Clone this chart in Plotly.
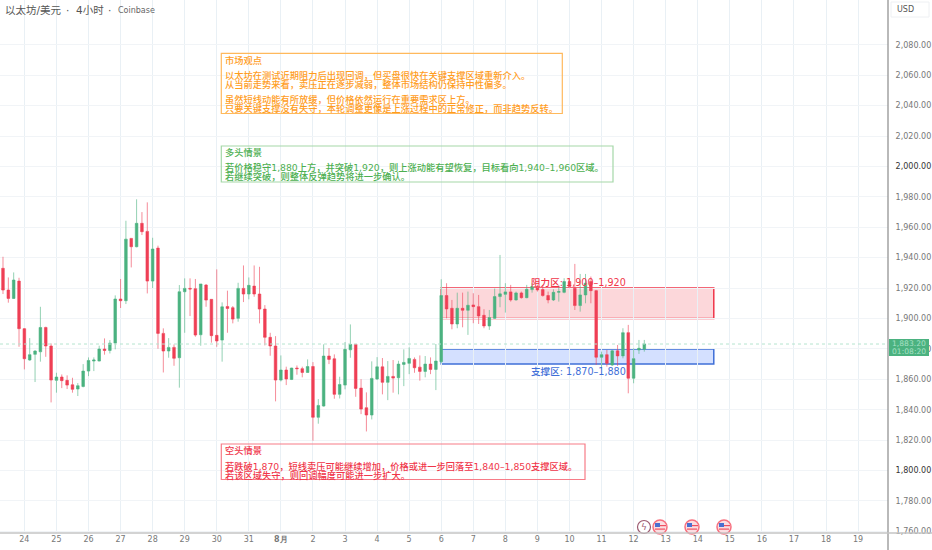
import plotly.graph_objects as go

W, H = 932, 550
AXIS_X, AXIS_Y = 888, 533
FONT_CJK = "DejaVu Sans, Noto Sans CJK SC"
FONT_TICK = "DejaVu Sans"
GREEN = "#4bb280"
RED = "#ef3f55"

# 4 hour candles, prices
opens = [1933, 1918.7, 1913.2, 1924.6, 1893.3, 1872.7, 1876.4, 1878.1, 1894.1, 1881.9,
         1859.3, 1861.5, 1859.3, 1856.4, 1853.6, 1855.3, 1865.4, 1872, 1872, 1879.9,
         1879, 1883.8, 1912.8, 1911.7, 1952.7, 1947.2, 1962.6, 1957.3, 1924.6, 1946.3,
         1890.2, 1878.6, 1881, 1874.2, 1917.6, 1919.8, 1919.6, 1889.3, 1922, 1912.6,
         1888.9, 1885.8, 1907.9, 1907.1, 1900.1, 1919.8, 1916.1, 1921.3, 1916.1, 1906.2,
         1887.6, 1881.9, 1859.5, 1866.1, 1859.9, 1867.4, 1867, 1864.5, 1868.4, 1835,
         1842.4, 1875.3, 1873.5, 1850.1, 1856.2, 1879.4, 1883, 1854.2, 1841.3, 1836.5,
         1860.2, 1868.2, 1858, 1861.9, 1861, 1869.8, 1870.5, 1873.1, 1868, 1865.2,
         1870, 1866.5, 1871.6, 1915.1, 1906.7, 1896.4, 1906.7, 1905.4, 1908.9, 1907.8,
         1902.1, 1895.1, 1900.1, 1914.4, 1915.9, 1917.5, 1912.2, 1916.8, 1913.7, 1919,
         1920.3, 1919, 1915.1, 1912.2, 1917.2, 1917.2, 1924.3, 1919.9, 1908.5, 1915.5,
         1924.3, 1918.3, 1874.5, 1876.2, 1869.4, 1878.7, 1875.4, 1890.7, 1860.7, 1879.3,
         1879.8]
highs = [1940.6, 1927, 1930.3, 1926.8, 1893.7, 1887.1, 1879.2, 1907.7, 1894.6, 1883.6,
         1864.3, 1863.2, 1862.6, 1861, 1857.5, 1870, 1874.4, 1874.4, 1882.1, 1886.9,
         1885.8, 1915.2, 1926, 1964.3, 1952.9, 1978.4, 1970, 1976.4, 1953.1, 1947.9,
         1893.5, 1887.1, 1882.9, 1922, 1926.4, 1926.4, 1926, 1922.7, 1922.7, 1912.6,
         1932.3, 1910.6, 1918.3, 1908.2, 1923.5, 1934.9, 1927, 1934.9, 1934, 1908.8,
         1890.6, 1888.4, 1875.7, 1868.3, 1867.6, 1869.1, 1868.3, 1873.1, 1871.3, 1847,
         1883, 1880.5, 1876.4, 1861.7, 1884.5, 1896.1, 1883.2, 1860.1, 1851.4, 1871.8,
         1874.6, 1874, 1872, 1872.7, 1872.2, 1879.7, 1881, 1874.4, 1875.7, 1875.3,
         1874.4, 1883.2, 1925.8, 1923.2, 1912.2, 1917, 1917, 1917.7, 1916.6, 1915.5,
         1906.1, 1905.6, 1919.7, 1941.8, 1923.2, 1922.1, 1917.7, 1917.7, 1922.1, 1923.2,
         1922.1, 1922.1, 1917.7, 1919.2, 1922.1, 1926.5, 1926.5, 1935.9, 1929.3, 1929.3,
         1927.6, 1918.8, 1878.2, 1879.3, 1879.3, 1882.6, 1893.6, 1895.8, 1880.4, 1885.9,
         1885.9]
lows = [1916.1, 1910.4, 1912.8, 1881.4, 1866.5, 1872.2, 1858.2, 1871.6, 1874.8, 1844.8,
        1851.2, 1854.2, 1853.6, 1851.2, 1849, 1854.7, 1862.1, 1865.4, 1871.8, 1876.2,
        1877, 1879.7, 1906.9, 1909.5, 1933.6, 1946.8, 1954.9, 1916.5, 1920, 1880.1,
        1864.5, 1874.2, 1868.9, 1854.5, 1890.6, 1901.6, 1888, 1882.1, 1907.7, 1884.1,
        1881.4, 1871.6, 1890.6, 1896.8, 1897.9, 1910.8, 1912.6, 1914.3, 1896.8, 1882.3,
        1875.5, 1845.5, 1858.6, 1856.2, 1859.5, 1863, 1861.3, 1864.3, 1819.6, 1830.8,
        1842, 1870, 1847.2, 1847.4, 1853.4, 1874.2, 1848.5, 1837.1, 1825.7, 1833.6,
        1859.5, 1850.1, 1846.3, 1851.2, 1850.1, 1855.5, 1863.4, 1864.3, 1859.1, 1861.3,
        1863.4, 1852.9, 1870.5, 1900.1, 1892.9, 1893.6, 1894.2, 1889.2, 1896.9, 1896.4,
        1893.6, 1892.5, 1899.7, 1907.4, 1903.9, 1911.1, 1911.8, 1913.1, 1913.3, 1917,
        1917.7, 1914.4, 1910, 1911.5, 1911.1, 1916.6, 1919.9, 1905.6, 1904.5, 1910,
        1910, 1869.4, 1867.2, 1868.3, 1868.8, 1868.8, 1873.8, 1850.8, 1857.4, 1876.7,
        1878.2]
closes = [1918.7, 1913.2, 1925.3, 1893.3, 1873.5, 1876.2, 1878.6, 1894.1, 1881.9, 1859.5,
          1861.5, 1859.1, 1856.2, 1853.4, 1855.8, 1865.4, 1872.4, 1872.7, 1879.9, 1879,
          1883.8, 1912.8, 1911.7, 1952.2, 1947.2, 1962.6, 1957.1, 1924.6, 1945.7, 1890.2,
          1878.6, 1881, 1873.8, 1917.6, 1919.8, 1919.4, 1889.1, 1922.7, 1912.1, 1888.7,
          1885.2, 1907.7, 1906.6, 1899.6, 1919.8, 1916.1, 1921.8, 1916.1, 1906.2, 1887.6,
          1881.9, 1859.5, 1866.1, 1860.2, 1867.4, 1867, 1864.5, 1868.4, 1835, 1842.8,
          1875.3, 1873.1, 1850.1, 1856.6, 1879.7, 1883, 1854, 1840.4, 1836.5, 1860.6,
          1868.2, 1858, 1861.9, 1860.8, 1870, 1871.1, 1873.7, 1867.6, 1865.2, 1870,
          1866.5, 1872, 1915.1, 1906.3, 1896.4, 1906.7, 1905.4, 1908.7, 1907.8, 1901.7,
          1895.1, 1900.6, 1914.4, 1916.2, 1917.5, 1912.2, 1916.8, 1913.7, 1919.2, 1921,
          1918.8, 1915.1, 1912.2, 1917.2, 1917.7, 1924.3, 1921, 1908.5, 1915.5, 1923.2,
          1918.3, 1874.5, 1876.2, 1870.5, 1878.7, 1875.4, 1890.7, 1860.7, 1873.6, 1880.4,
          1883.3]

x_labels = ["24", "25", "26", "27", "28", "29", "30", "31", "<b>8月</b>"] + [str(d) for d in range(2, 20)]
y_values = list(range(1760, 2100, 20))
dark_prices = [1800, 2000]

last_price = 1883.2
zone_res = (1900, 1920)
zone_sup = (1870, 1880)
zone_start, zone_end = 82, 133
label_res = "阻力区: 1,900–1,920"
label_sup = "支撑区: 1,870–1,880"

view_lines = ["市场观点", "以太坊在测试近期阻力后出现回调，但买盘很快在关键支撑区域重新介入。",
              "从当前走势来看，卖压正在逐步减弱，整体市场结构仍保持中性偏多。",
              "虽然短线动能有所放缓，但价格依然运行在重要需求区上方。",
              "只要关键支撑没有失守，本轮调整更像是上涨过程中的正常修正，而非趋势反转。"]
bull_lines = ["多头情景", "若价格稳守1,880上方，并突破1,920，则上涨动能有望恢复，目标看向1,940–1,960区域。",
              "若继续突破，则整体反弹趋势将进一步确认。"]
bear_lines = ["空头情景", "若跌破1,870，短线卖压可能继续增加，价格或进一步回落至1,840–1,850支撑区域。",
              "若该区域失守，则回调幅度可能进一步扩大。"]


def px(x):
    return x / W


def py(y):
    return 1 - y / H


def text(fig, x, y, s, color, size=9.25, family=FONT_CJK, anchor="left", weight=None):
    fig.add_annotation(x=px(x), y=py(y), xref="paper", yref="paper", text=s, showarrow=False,
                       xanchor=anchor, yanchor="middle", borderpad=0,
                       font=dict(family=family, size=size, color=color, weight=weight))


def paper_rect(fig, x0, y0, x1, y1, **kw):
    fig.add_shape(type="rect", xref="paper", yref="paper", x0=px(x0), x1=px(x1), y0=py(y0), y1=py(y1), **kw)


def note_box(fig, box, lines, ys, color, border):
    paper_rect(fig, *box, line=dict(color=border, width=1.2))
    for s, y in zip(lines, ys):
        text(fig, 223.5, y, s, color, weight=500)


def event_icon(fig, cx, cy=527):
    # small flag in a red ring
    fig.add_shape(type="circle", xref="paper", yref="paper", x0=px(cx - 7), x1=px(cx + 7),
                  y0=py(cy - 7), y1=py(cy + 7), line=dict(color="#f7707f", width=1.5), fillcolor="#fbdde1")
    paper_rect(fig, cx - 5, cy - 4, cx, cy, line_width=0, fillcolor="#4a6fd0")
    paper_rect(fig, cx, cy - 2, cx + 6, cy - 0.8, line_width=0, fillcolor="#ef5060")
    paper_rect(fig, cx - 5, cy + 1.5, cx + 5, cy + 2.7, line_width=0, fillcolor="#ef5060")


fig = go.Figure(go.Candlestick(
    x=list(range(len(opens))), open=opens, high=highs, low=lows, close=closes,
    whiskerwidth=0,
    increasing=dict(line=dict(color="rgba(75,178,128,0.6)", width=1), fillcolor=GREEN),
    decreasing=dict(line=dict(color="rgba(239,63,85,0.6)", width=1), fillcolor=RED),
    showlegend=False))

# zones sit under the labels
fig.add_shape(type="rect", x0=zone_start, x1=zone_end, y0=zone_res[0], y1=zone_res[1],
              line=dict(color="#f0364a", width=1.5), fillcolor="rgba(242,54,69,0.2)", layer="below")
fig.add_shape(type="rect", x0=zone_start, x1=zone_end, y0=zone_sup[0], y1=zone_sup[1],
              line=dict(color="#3f6fd8", width=1.5), fillcolor="rgba(41,98,255,0.2)", layer="below")
fig.add_hline(y=last_price, line=dict(color="#b5e5cf", width=1, dash="dot"))

text(fig, 578, 282, label_res, "#f0364a", size=9.6, anchor="center", weight=500)
text(fig, 578, 371, label_sup, "#3f6fd8", size=9.6, anchor="center", weight=500)

note_box(fig, (221.3, 53.3, 562.3, 113.5), view_lines, [60, 75.4, 84.4, 99.6, 108.6], "#ff9d1e", "#ffb95c")
note_box(fig, (221.3, 146, 613, 182), bull_lines, [152.5, 168, 177], "#4caf50", "#a5d8a8")
note_box(fig, (221.3, 444, 585, 479.5), bear_lines, [450, 466, 475], "#f0364a", "#f77c88")

# title and currency button
text(fig, 4, 10, "以太坊/美元", "#555555", size=10.5)
text(fig, 65, 10, "·", "#555555", size=10.5)
text(fig, 75, 10, "4小时", "#555555", size=10.5)
text(fig, 107, 10, "·", "#555555", size=10.5)
text(fig, 117, 10.5, "Coinbase", "#666666", size=8, family=FONT_TICK)
fig.add_shape(type="rect", xref="paper", yref="paper", x0=px(891), x1=px(929), y0=py(2), y1=py(17),
              line=dict(color="#eef0f3", width=1))
text(fig, 905, 9.5, "USD", "#555555", size=8, family=FONT_TICK, anchor="center")

# current price tag
paper_rect(fig, 889, 339, 929, 356, line_width=0, fillcolor=GREEN)
text(fig, 909, 343.3, "1,883.20", "#a8e0c5", size=7.6, family=FONT_TICK, anchor="center")
text(fig, 909, 351.7, "01:08:20", "#a8e0c5", size=7.6, family=FONT_TICK, anchor="center")

# calendar icons
fig.add_shape(type="circle", xref="paper", yref="paper", x0=px(637.5), x1=px(650.5), y0=py(520.5), y1=py(533.5),
              line=dict(color="#9c5a70", width=1.2), fillcolor="white")
text(fig, 644, 527, "ϟ", "#9c5a70", size=9, family="DejaVu Sans", anchor="center")
event_icon(fig, 660)
event_icon(fig, 692)
event_icon(fig, 724)

# frame lines of the price and time scales
fig.add_shape(type="line", xref="paper", yref="paper", x0=px(AXIS_X), x1=px(AXIS_X), y0=0, y1=1,
              line=dict(color="#8a8a8a", width=1.2))
fig.add_shape(type="line", xref="paper", yref="paper", x0=0, x1=1, y0=py(AXIS_Y), y1=py(AXIS_Y),
              line=dict(color="#c4c4c4", width=1.5))

fig.update_layout(
    width=W, height=H, autosize=False,
    margin=dict(l=0, r=0, t=0, b=0),
    paper_bgcolor="white", plot_bgcolor="white",
    showlegend=False, boxgap=0.3,
    xaxis=dict(domain=[0, AXIS_X / W], range=[-0.56, 165.6], rangeslider=dict(visible=False), automargin=False,
               tickmode="array", tickvals=[4 + 6 * i for i in range(len(x_labels))], ticktext=x_labels,
               showgrid=True, gridcolor="#e9f0f5", gridwidth=1, zeroline=False, showline=False,
               ticks="", tickfont=dict(family=FONT_TICK, size=8, color="#777777")),
    yaxis=dict(domain=[1 - AXIS_Y / H, 1], range=[1758.9, 2109.5], side="right", automargin=False,
               tickmode="array", tickvals=y_values,
               ticktext=[f'<span style="color:#333333">{v:,.2f}</span>' if v in dark_prices else f"{v:,.2f}"
                         for v in y_values],
               showgrid=True, gridcolor="#f1f4f7", gridwidth=1, zeroline=False, showline=False,
               ticks="outside", ticklen=5, tickcolor="white",
               tickfont=dict(family=FONT_TICK, size=8, color="#777777")),
)

# the page margin would push the whole chart off the 932x550 window
fig.write_html("out.html", config=dict(displayModeBar=False),
               post_script="document.body.style.margin='0';document.body.style.overflow='hidden';")
